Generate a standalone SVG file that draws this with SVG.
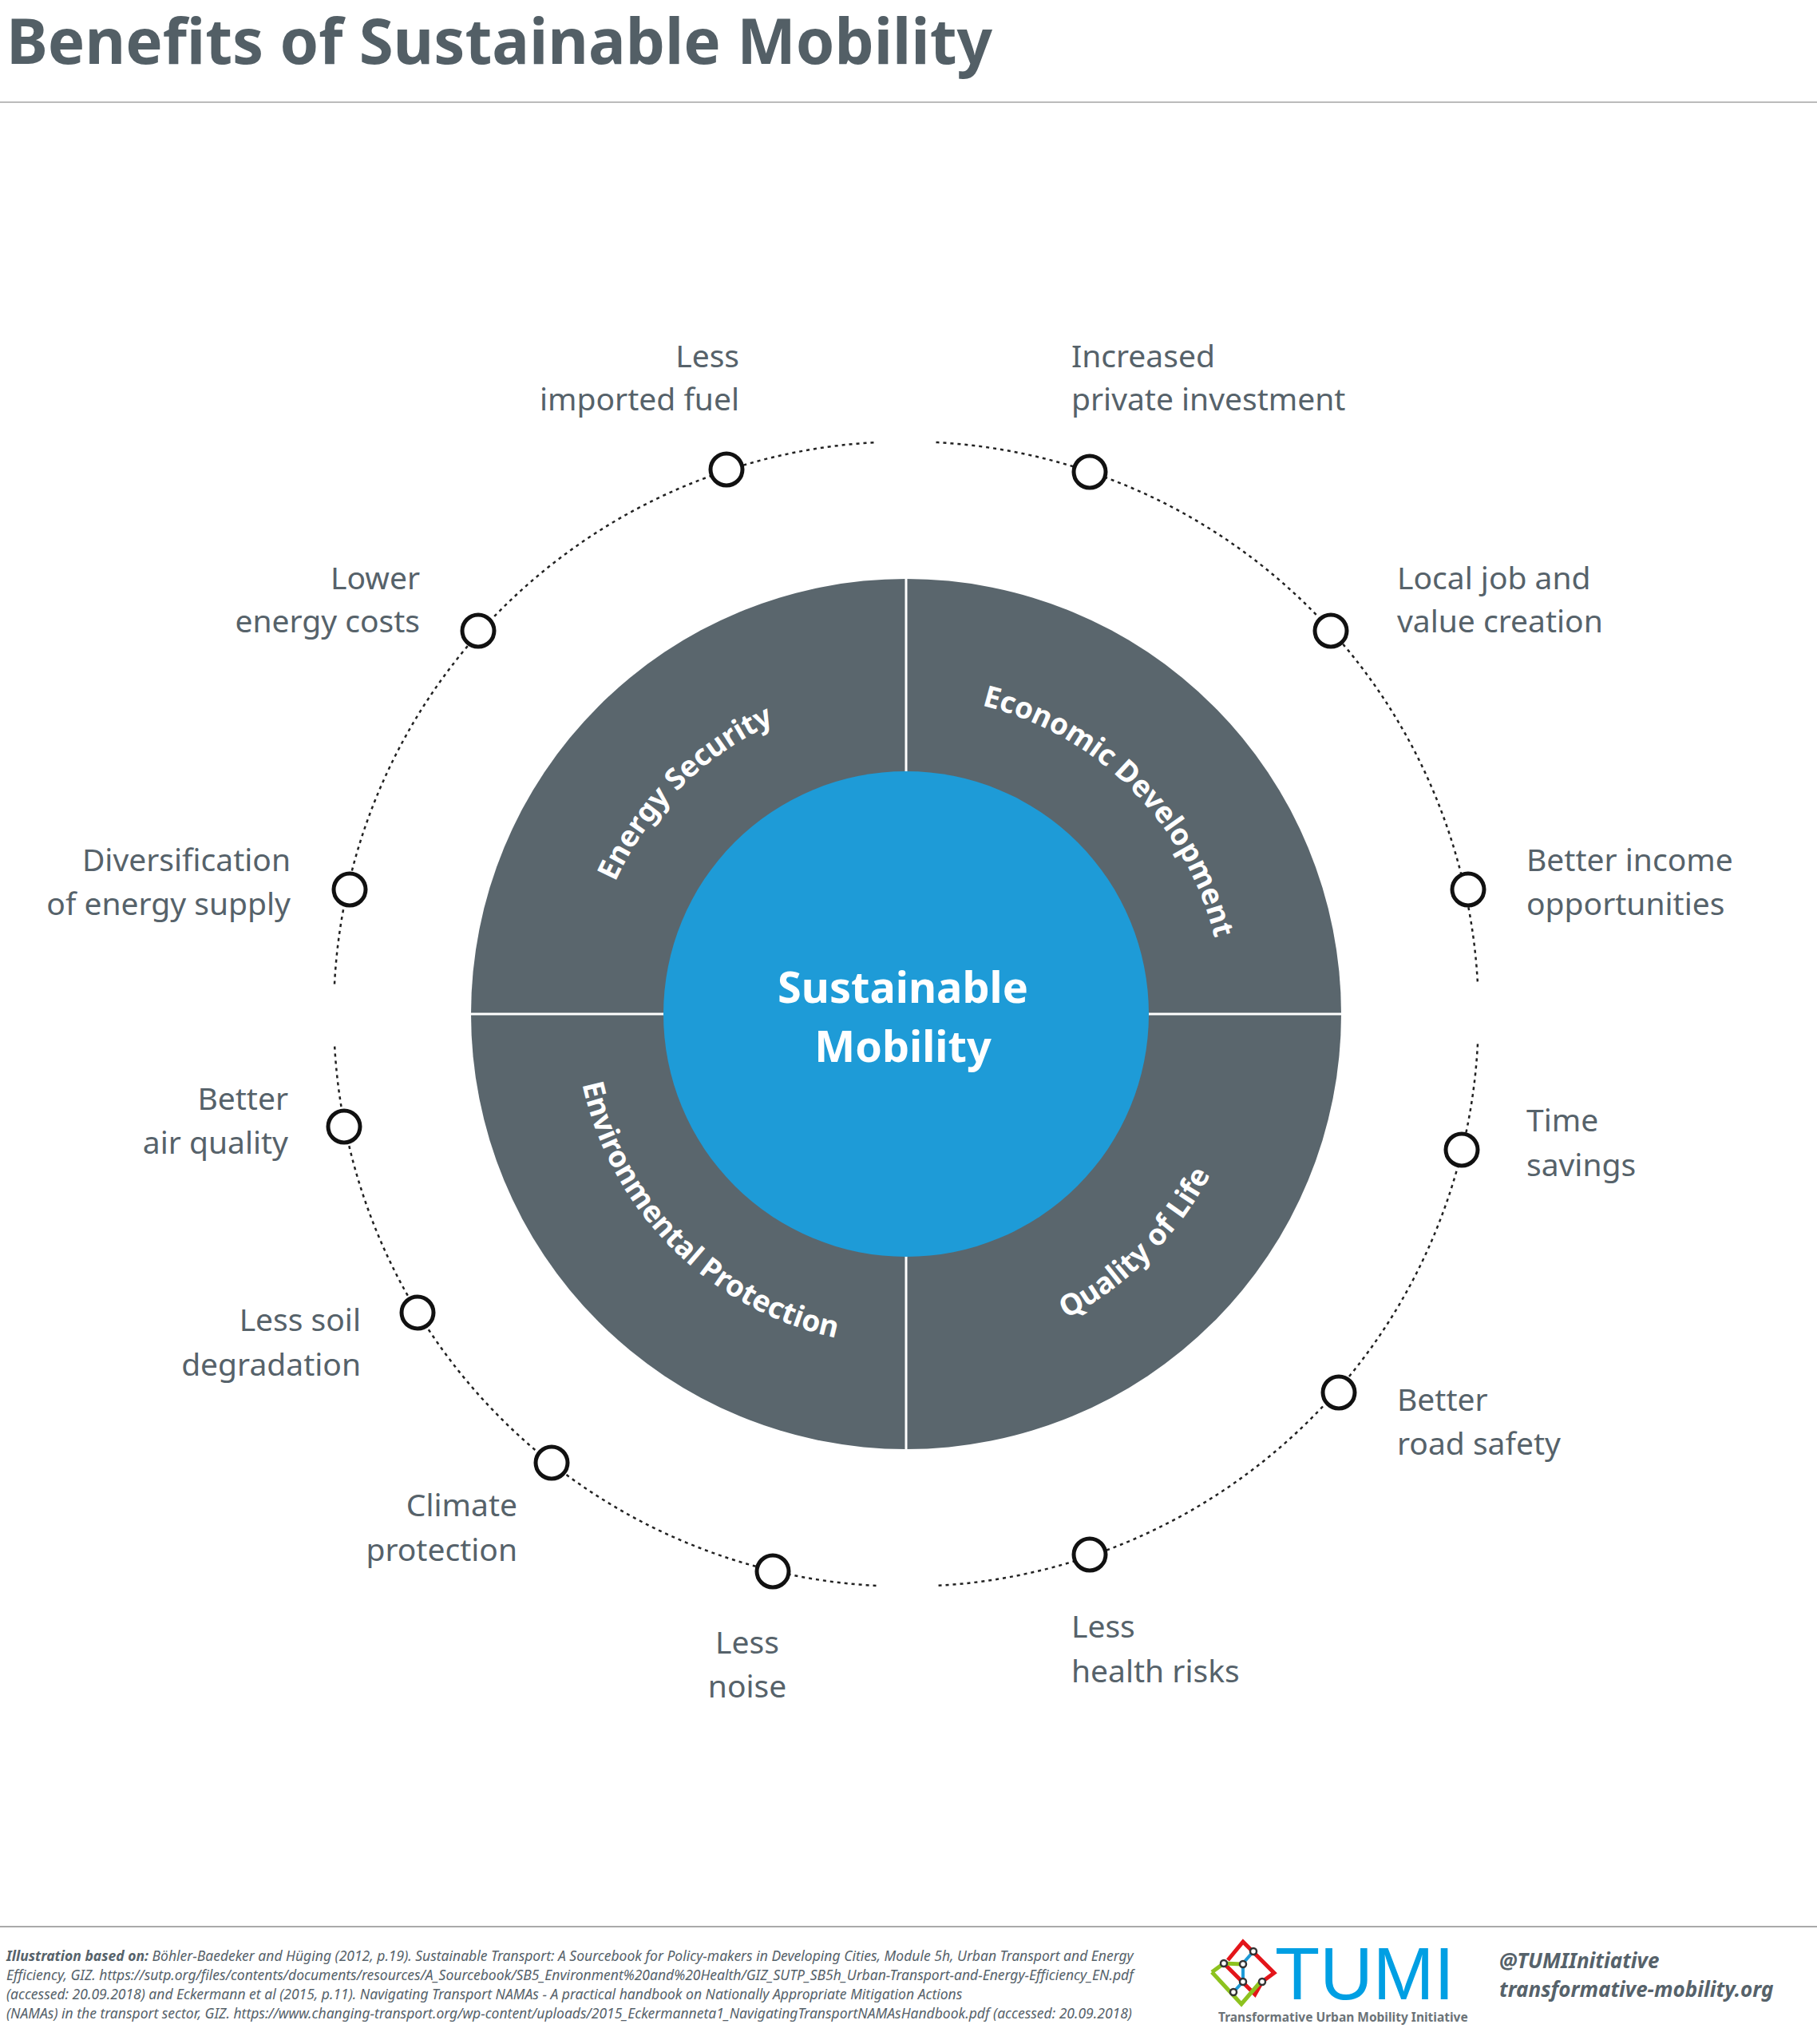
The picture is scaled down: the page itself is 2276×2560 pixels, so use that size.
<svg xmlns="http://www.w3.org/2000/svg" width="2276" height="2560" viewBox="0 0 2276 2560">
<style>
.t{font-family:"Noto Sans","Open Sans",sans-serif;font-size:39px;fill:#56626a}
.r{text-anchor:end}
.c{text-anchor:middle}
.seg{font-family:"Noto Sans","Open Sans",sans-serif;font-size:37px;font-weight:bold;fill:#fff}
.dot{fill:#fff;stroke:#111;stroke-width:5}
.ring{fill:none;stroke:#222;stroke-width:2.5;stroke-dasharray:4 5}
.fn{font-family:"Noto Sans","Open Sans",sans-serif;font-size:17.5px;font-style:italic;fill:#56626a}
</style>
<defs>
<path id="pES" d="M735,1270 A400,400 0 0 1 1135,870"/>
<path id="pED" d="M1135,872 A398,398 0 0 1 1533,1270"/>
<path id="pEP" d="M720,1270 A415,415 0 0 0 1135,1685"/>
<path id="pQL" d="M1135,1701 A431,431 0 0 0 1566,1270"/>
</defs>
<rect width="2276" height="2560" fill="#fff"/>
<text x="8" y="80" font-family="Noto Sans,Open Sans,sans-serif" font-size="78" font-weight="bold" fill="#535f66">Benefits of Sustainable Mobility</text>
<line x1="0" y1="128" x2="2276" y2="128" stroke="#bbb" stroke-width="2"/>
<g id="connectors">
<path class="ring" d="M1172.5,554 A717,717 0 0 1 1851,1232.5"/>
<path class="ring" d="M1851,1307.5 A717,717 0 0 1 1172.5,1986"/>
<path class="ring" d="M1097.5,1986 A717,717 0 0 1 419,1307.5"/>
<path class="ring" d="M419,1232.5 A717,717 0 0 1 1097.5,554"/>
</g>
<g id="wheel">
<circle cx="1135" cy="1270" r="545" fill="#5a666d"/>
<line x1="1135" y1="725" x2="1135" y2="1815" stroke="#fff" stroke-width="3"/>
<line x1="590" y1="1270" x2="1680" y2="1270" stroke="#fff" stroke-width="3"/>
<circle cx="1135" cy="1270" r="304" fill="#1e9bd7"/>
<text x="1131" y="1256" text-anchor="middle" font-family="Noto Sans,Open Sans,sans-serif" font-size="54" font-weight="bold" fill="#fff">Sustainable</text>
<text x="1131" y="1330" text-anchor="middle" font-family="Noto Sans,Open Sans,sans-serif" font-size="54" font-weight="bold" fill="#fff">Mobility</text>
</g>
<g id="seg-es"><text class="seg"><textPath href="#pES" startOffset="50%" text-anchor="middle">Energy Security</textPath></text></g>
<g id="seg-ed"><text class="seg"><textPath href="#pED" startOffset="50%" text-anchor="middle">Economic Development</textPath></text></g>
<g id="seg-ep"><text class="seg"><textPath href="#pEP" startOffset="50%" text-anchor="middle">Environmental Protection</textPath></text></g>
<g id="seg-ql"><text class="seg"><textPath href="#pQL" startOffset="50%" text-anchor="middle">Quality of Life</textPath></text></g>
<g id="n1"><circle class="dot" cx="910" cy="588" r="20"/><text class="t r" x="926" y="460">Less</text><text class="t r" x="926" y="514">imported fuel</text></g>
<g id="n2"><circle class="dot" cx="599" cy="790" r="20"/><text class="t r" x="526" y="738">Lower</text><text class="t r" x="526" y="792">energy costs</text></g>
<g id="n3"><circle class="dot" cx="438" cy="1114" r="20"/><text class="t r" x="364" y="1091">Diversification</text><text class="t r" x="364" y="1146">of energy supply</text></g>
<g id="n4"><circle class="dot" cx="431" cy="1411" r="20"/><text class="t r" x="361" y="1390">Better</text><text class="t r" x="361" y="1445">air quality</text></g>
<g id="n5"><circle class="dot" cx="523" cy="1644" r="20"/><text class="t r" x="452" y="1667">Less soil</text><text class="t r" x="452" y="1723">degradation</text></g>
<g id="n6"><circle class="dot" cx="691" cy="1832" r="20"/><text class="t r" x="648" y="1899">Climate</text><text class="t r" x="648" y="1955">protection</text></g>
<g id="n7"><circle class="dot" cx="968" cy="1968" r="20"/><text class="t c" x="936" y="2071">Less</text><text class="t c" x="936" y="2126">noise</text></g>
<g id="n8"><circle class="dot" cx="1365" cy="591" r="20"/><text class="t" x="1342" y="460">Increased</text><text class="t" x="1342" y="514">private investment</text></g>
<g id="n9"><circle class="dot" cx="1667" cy="790" r="20"/><text class="t" x="1750" y="738">Local job and</text><text class="t" x="1750" y="792">value creation</text></g>
<g id="n10"><circle class="dot" cx="1839" cy="1114" r="20"/><text class="t" x="1912" y="1091">Better income</text><text class="t" x="1912" y="1146">opportunities</text></g>
<g id="n11"><circle class="dot" cx="1831" cy="1440" r="20"/><text class="t" x="1912" y="1417">Time</text><text class="t" x="1912" y="1473">savings</text></g>
<g id="n12"><circle class="dot" cx="1677" cy="1744" r="20"/><text class="t" x="1750" y="1767">Better</text><text class="t" x="1750" y="1822">road safety</text></g>
<g id="n13"><circle class="dot" cx="1365" cy="1947" r="20"/><text class="t" x="1342" y="2051">Less</text><text class="t" x="1342" y="2107">health risks</text></g>
<line x1="0" y1="2413" x2="2276" y2="2413" stroke="#aaa" stroke-width="2"/>
<g id="footer">
<text class="fn" x="8" y="2456"><tspan font-weight="bold">Illustration based on:</tspan> Böhler-Baedeker and Hüging (2012, p.19). Sustainable Transport: A Sourcebook for Policy-makers in Developing Cities, Module 5h, Urban Transport and Energy</text>
<text class="fn" x="8" y="2480">Efficiency, GIZ. https://sutp.org/files/contents/documents/resources/A_Sourcebook/SB5_Environment%20and%20Health/GIZ_SUTP_SB5h_Urban-Transport-and-Energy-Efficiency_EN.pdf</text>
<text class="fn" x="8" y="2504">(accessed: 20.09.2018) and Eckermann et al (2015, p.11). Navigating Transport NAMAs - A practical handbook on Nationally Appropriate Mitigation Actions</text>
<text class="fn" x="8" y="2528">(NAMAs) in the transport sector, GIZ. https://www.changing-transport.org/wp-content/uploads/2015_Eckermanneta1_NavigatingTransportNAMAsHandbook.pdf (accessed: 20.09.2018)</text>
</g>
<g id="logo">
<path d="M1538,2455 L1557,2432 L1596,2471 L1581,2482" fill="none" stroke="#e3151a" stroke-width="5"/>
<path d="M1533,2459 L1572,2498 L1581,2482" fill="none" stroke="#e3151a" stroke-width="5"/>
<path d="M1518,2470 L1555,2510 L1579,2482" fill="none" stroke="#8dc21f" stroke-width="5"/>
<path d="M1518,2470 L1533,2459 L1556,2460" fill="none" stroke="#8dc21f" stroke-width="5"/>
<path d="M1570,2444 L1557,2459 L1557,2482 L1545,2495" fill="none" stroke="#1e9bd7" stroke-width="4"/>
<g fill="#fff" stroke="#333" stroke-width="2.5"><circle cx="1570" cy="2444" r="4"/><circle cx="1533" cy="2459" r="4"/><circle cx="1557" cy="2460" r="4"/><circle cx="1557" cy="2482" r="4"/><circle cx="1581" cy="2482" r="4"/><circle cx="1545" cy="2495" r="4"/></g>
<text x="1597" y="2504" font-family="Liberation Sans,Arial,sans-serif" font-size="92" fill="#009fe3">TUMI</text>
<text x="1526" y="2532" font-family="Noto Sans,Open Sans,sans-serif" font-size="15.5" font-weight="bold" fill="#6b7378">Transformative Urban Mobility Initiative</text>
<text x="1878" y="2465" font-family="Noto Sans,Open Sans,sans-serif" font-size="26" font-weight="bold" font-style="italic" fill="#56626a">@TUMIInitiative</text>
<text x="1878" y="2501" font-family="Noto Sans,Open Sans,sans-serif" font-size="26" font-weight="bold" font-style="italic" fill="#56626a">transformative-mobility.org</text>
</g>
</svg>
